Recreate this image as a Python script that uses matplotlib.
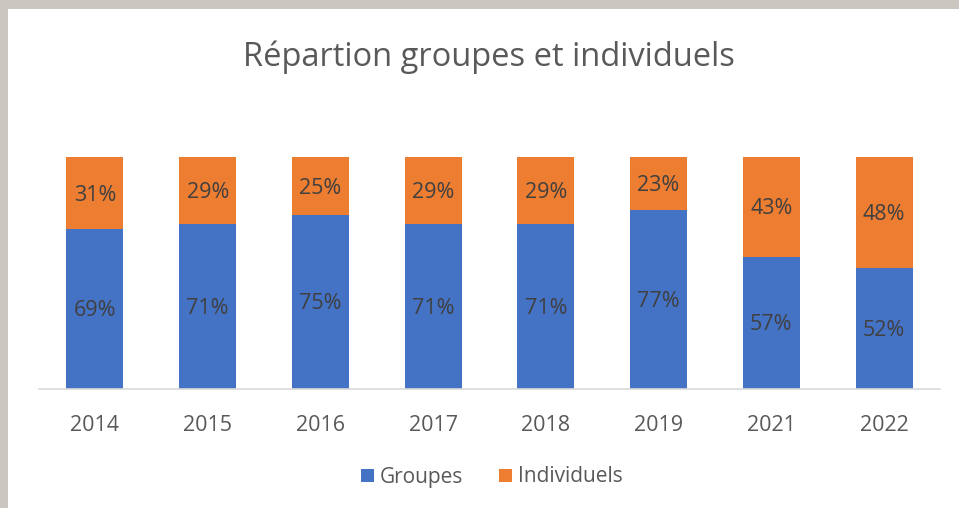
import matplotlib
matplotlib.use("Agg")
import matplotlib.pyplot as plt
from matplotlib.patches import Rectangle

# Share of groups vs. individuals per year (percent)
years = ["2014", "2015", "2016", "2017", "2018", "2019", "2021", "2022"]
groupes = [69, 71, 75, 71, 71, 77, 57, 52]
individuels = [31, 29, 25, 29, 29, 23, 43, 48]

BLUE = "#4472C4"
ORANGE = "#ED7D31"
TEXT = "#595959"
LABEL = "#404040"
FONT = ["Open Sans", "DejaVu Sans"]

plt.rcParams["font.family"] = FONT

fig = plt.figure(figsize=(9.59, 5.08), dpi=100)
fig.patch.set_facecolor("white")

# Window frame along the top and left edges
W, H = 959, 508
frame = "#CBC6C0"
fig.patches.append(Rectangle((0, 1 - 9 / H), 1, 9 / H, transform=fig.transFigure,
                             facecolor=frame, edgecolor="none", zorder=0))
fig.patches.append(Rectangle((0, 0), 8 / W, 1, transform=fig.transFigure,
                             facecolor=frame, edgecolor="none", zorder=0))

ax = fig.add_axes([38.6 / W, (H - 389) / H, 901.8 / W, 232 / H])
x = list(range(len(years)))
width = 0.506

ax.bar(x, groupes, width, color=BLUE, label="Groupes")
ax.bar(x, individuels, width, bottom=groupes, color=ORANGE, label="Individuels")

for xi, g, i in zip(x, groupes, individuels):
    ax.text(xi, g / 2 - 0.6, f"{g}%", ha="center", va="center", fontsize=15.5, color=LABEL)
    ax.text(xi, g + i / 2 - 0.9, f"{i}%", ha="center", va="center", fontsize=15.5, color=LABEL)

ax.set_xlim(-0.5, len(years) - 0.5)
ax.set_ylim(0, 100)
ax.set_xticks(x)
ax.set_xticklabels(years, fontsize=15.5, color=TEXT)
ax.tick_params(axis="x", length=0, pad=19)
ax.set_yticks([])
for side in ["top", "right", "left"]:
    ax.spines[side].set_visible(False)
ax.spines["bottom"].set_color("#D9D9D9")
ax.spines["bottom"].set_linewidth(1.2)

fig.text(489 / W, 1 - 57 / H, "Répartion groupes et individuels", ha="center",
         va="center", fontsize=23.5, color=TEXT)

leg = fig.legend(loc="center", bbox_to_anchor=(492 / W, 1 - 477 / H), ncol=2,
                 frameon=False, fontsize=15, handlelength=0.6, handleheight=0.6,
                 handletextpad=0.3, columnspacing=1.7)
for t in leg.get_texts():
    t.set_color(TEXT)

fig.savefig("out.png", dpi=100, facecolor="white")
